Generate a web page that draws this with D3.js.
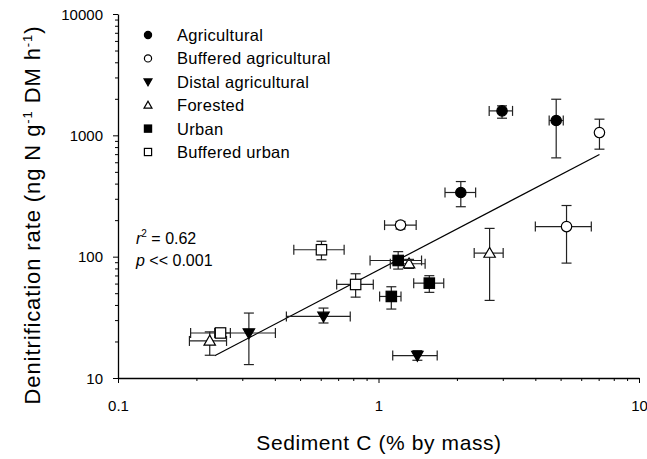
<!DOCTYPE html>
<html>
<head>
<meta charset="utf-8">
<script src="https://cdn.jsdelivr.net/npm/d3@7"></script>
<style>
  html, body { margin: 0; padding: 0; background: #fff; }
  svg { display: block; }
  text { font-family: "Liberation Sans", Arial, sans-serif; fill: #000; }
</style>
</head>
<body>
<svg id="chart" width="647" height="459"></svg>
<script>
// Sediment carbon (% by mass) vs denitrification rate, means with error ranges
const seriesNames = ["Agricultural", "Buffered agricultural", "Distal agricultural",
                     "Forested", "Urban", "Buffered urban"];

// each row: [x, xLow, xHigh, y, yLow, yHigh]
const agricultural = [
  [2.98, 2.66, 3.27, 1590, 1384, 1750],
  [4.81, 4.52, 5.12, 1325, 652, 1984],
  [2.07, 1.80, 2.36, 338, 258, 416]
];
const bufferedAgricultural = [
  [7.05, 7.05, 7.05, 1054, 769, 1359],
  [5.27, 4.00, 6.56, 177, 88.5, 264],
  [1.215, 1.055, 1.395, 182, 169, 195]
];
const distalAgricultural = [
  [0.318, 0.235, 0.402, 23.5, 12.9, 34.3],
  [0.615, 0.443, 0.779, 32.2, 28.4, 37.7],
  [1.41, 1.134, 1.68, 15.3, 14.0, 16.8]
];
const forested = [
  [0.225, 0.188, 0.261, 20.2, 15.4, 24.0],
  [1.31, 1.11, 1.51, 87.4, 80, 95],
  [2.67, 2.33, 3.01, 107, 43.6, 171]
];
const urban = [
  [1.19, 0.928, 1.463, 93, 79, 110],
  [1.12, 1.01, 1.22, 47, 37, 56.5],
  [1.567, 1.365, 1.78, 60.5, 50.8, 69.7]
];
const bufferedUrban = [
  [0.2475, 0.19, 0.27, 23.5, 22.5, 24.5],
  [0.604, 0.473, 0.738, 114, 94.3, 134],
  [0.817, 0.691, 0.955, 59, 46.4, 72.3]
];

// log-log regression: log10(y) = intercept + slope * log10(x)
const fitIntercept = 1.890;
const fitSlope = 1.1226;
const fitXRange = [0.235, 7.05];
const fitText = ["0.62", "<< 0.001"];

const xTickLabels = ["0.1", "1", "10"];
const yTickLabels = ["10", "100", "1000", "10000"];

// marker appearance per series
const markerStyle = [
  { shape: "circle",   fill: "#000" },
  { shape: "circle",   fill: "#fff" },
  { shape: "triDown",  fill: "#000" },
  { shape: "triUp",    fill: "#fff" },
  { shape: "square",   fill: "#000" },
  { shape: "square",   fill: "#fff" }
];
const seriesData = [agricultural, bufferedAgricultural, distalAgricultural,
                    forested, urban, bufferedUrban];

const svg = d3.select("#chart");
const x = d3.scaleLog().domain([0.1, 10]).range([118, 639]);
const y = d3.scaleLog().domain([10, 10000]).range([378, 14]);

// axes
function minorTicks(lo, hi) {
  const t = [];
  for (let d = lo; d < hi; d *= 10)
    for (let k = 1; k < 10; k++) t.push(d * k);
  t.push(hi);
  return t;
}
const xTicks = minorTicks(0.1, 10);
const yTicks = minorTicks(10, 10000);
const isMajor = v => Math.abs(Math.log10(v) - Math.round(Math.log10(v))) < 1e-9;

const xAxis = d3.axisBottom(x).tickValues(xTicks)
  .tickSize(0).tickFormat(() => "");
const gx = svg.append("g").attr("transform", "translate(0,378)").call(xAxis);
gx.select(".domain").attr("stroke", "#000").attr("stroke-width", 1.3);
gx.selectAll(".tick line").remove();
gx.selectAll(".tick").append("line")
  .attr("y2", d => isMajor(d) ? 5 : 3)
  .attr("stroke", "#000").attr("stroke-width", 1);
gx.selectAll(".tick").filter(d => isMajor(d)).append("text")
  .attr("y", 33).attr("text-anchor", "middle")
  .style("font-size", "15px")
  .text(d => xTickLabels[Math.round(Math.log10(d)) + 1]);

const yAxis = d3.axisLeft(y).tickValues(yTicks)
  .tickSize(0).tickFormat(() => "");
const gy = svg.append("g").attr("transform", "translate(118,0)").call(yAxis);
gy.select(".domain").attr("stroke", "#000").attr("stroke-width", 1.3);
gy.selectAll(".tick line").remove();
gy.selectAll(".tick").append("line")
  .attr("x2", d => isMajor(d) ? -5 : -3)
  .attr("stroke", "#000").attr("stroke-width", 1);
gy.selectAll(".tick").filter(d => isMajor(d)).append("text")
  .attr("x", -15).attr("dy", "0.35em").attr("text-anchor", "end")
  .style("font-size", "15px")
  .text(d => yTickLabels[Math.round(Math.log10(d)) - 1]);

// axis titles
svg.append("text")
  .attr("x", 379).attr("y", 450).attr("text-anchor", "middle")
  .style("font-size", "21px").style("letter-spacing", "0.6px")
  .text("Sediment C (% by mass)");

const yt = svg.append("text")
  .attr("transform", "translate(40,215) rotate(-90)")
  .attr("text-anchor", "middle")
  .style("font-size", "22px").style("letter-spacing", "0.9px");
yt.append("tspan").text("Denitrification rate (ng N g");
yt.append("tspan").attr("dy", -8).style("font-size", "13px").text("-1");
yt.append("tspan").attr("dy", 8).text(" DM h");
yt.append("tspan").attr("dy", -8).style("font-size", "13px").text("-1");
yt.append("tspan").attr("dy", 8).text(")");

// regression line
const fitLine = d3.line().x(d => x(d)).y(d => y(Math.pow(10, fitIntercept + fitSlope * Math.log10(d))));
svg.append("path").datum(fitXRange)
  .attr("d", fitLine).attr("fill", "none")
  .attr("stroke", "#000").attr("stroke-width", 1.2);

// marker drawing
function drawMarker(g, style, size) {
  const s = size;
  if (style.shape === "circle") {
    g.append("circle").attr("r", s).attr("fill", style.fill)
      .attr("stroke", "#000").attr("stroke-width", 1.2);
  } else if (style.shape === "square") {
    g.append("rect").attr("x", -s).attr("y", -s).attr("width", 2 * s).attr("height", 2 * s)
      .attr("fill", style.fill).attr("stroke", "#000").attr("stroke-width", 1.2);
  } else if (style.shape === "triDown") {
    g.append("path").attr("d", `M${-s * 1.1},${-s * 0.8}L${s * 1.1},${-s * 0.8}L0,${s * 1.1}Z`)
      .attr("fill", style.fill).attr("stroke", "#000").attr("stroke-width", 1.2);
  } else {
    g.append("path").attr("d", `M${-s * 1.1},${s * 0.8}L${s * 1.1},${s * 0.8}L0,${-s * 1.1}Z`)
      .attr("fill", style.fill).attr("stroke", "#000").attr("stroke-width", 1.2);
  }
}

// error bars and points
const cap = 5;
seriesData.forEach((rows, si) => {
  const g = svg.append("g").attr("class", "series");
  rows.forEach(r => {
    const [xv, xl, xh, yv, yl, yh] = r;
    const eb = g.append("g").attr("stroke", "#222").attr("stroke-width", 1.2);
    if (xh > xl) {
      eb.append("line").attr("x1", x(xl)).attr("x2", x(xh)).attr("y1", y(yv)).attr("y2", y(yv));
      eb.append("line").attr("x1", x(xl)).attr("x2", x(xl)).attr("y1", y(yv) - cap).attr("y2", y(yv) + cap);
      eb.append("line").attr("x1", x(xh)).attr("x2", x(xh)).attr("y1", y(yv) - cap).attr("y2", y(yv) + cap);
    }
    if (yh > yl) {
      eb.append("line").attr("x1", x(xv)).attr("x2", x(xv)).attr("y1", y(yl)).attr("y2", y(yh));
      eb.append("line").attr("x1", x(xv) - cap).attr("x2", x(xv) + cap).attr("y1", y(yl)).attr("y2", y(yl));
      eb.append("line").attr("x1", x(xv) - cap).attr("x2", x(xv) + cap).attr("y1", y(yh)).attr("y2", y(yh));
    }
  });
  rows.forEach(r => {
    const m = g.append("g").attr("transform", `translate(${x(r[0])},${y(r[3])})`);
    drawMarker(m, markerStyle[si], 5.2);
  });
});

// legend
const legend = svg.append("g").attr("transform", "translate(148,35)");
seriesNames.forEach((name, i) => {
  const row = legend.append("g").attr("transform", `translate(0,${i * 23.4})`);
  drawMarker(row, markerStyle[i], 3.6);
  row.append("text").attr("x", 29).attr("dy", "0.36em")
    .style("font-size", "16.5px").style("letter-spacing", "0.3px").text(name);
});

// fit statistics
const st = svg.append("text").attr("x", 136).attr("y", 244).style("font-size", "16px");
st.append("tspan").style("font-style", "italic").text("r");
st.append("tspan").attr("dy", -7).style("font-size", "10px").text("2");
st.append("tspan").attr("dy", 7).text(" = " + fitText[0]);
const sp = svg.append("text").attr("x", 136).attr("y", 266).style("font-size", "16px");
sp.append("tspan").style("font-style", "italic").text("p");
sp.append("tspan").text(" " + fitText[1]);
</script>
</body>
</html>
